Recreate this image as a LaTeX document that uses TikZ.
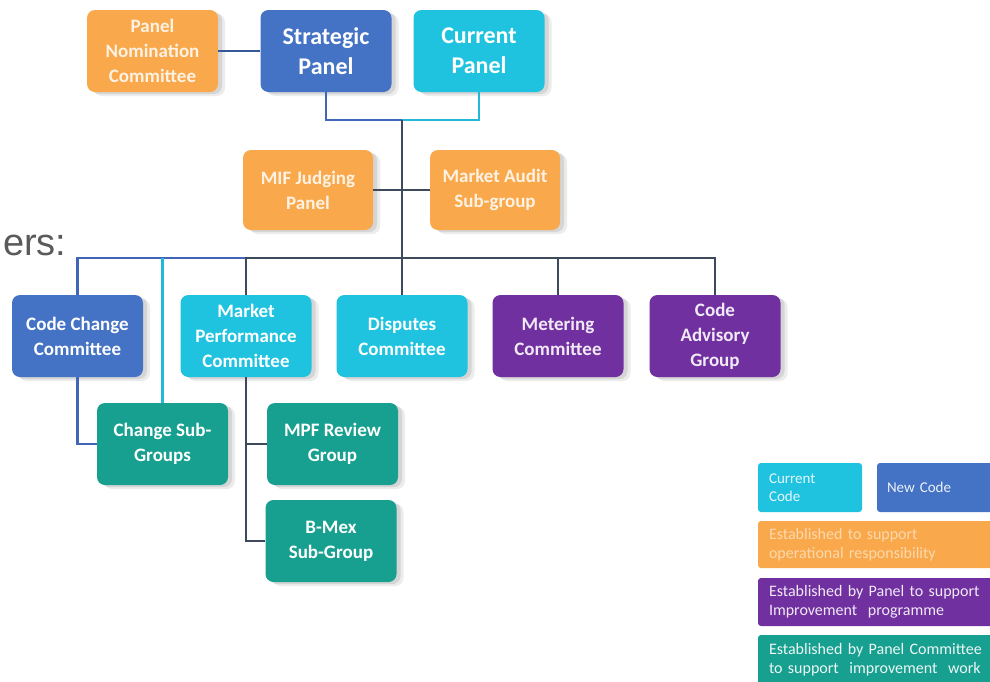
\documentclass[tikz,border=0pt]{standalone}
\usepackage{fontspec}
\setmainfont{Carlito}
\newfontfamily\arialf{Liberation Sans}
\usetikzlibrary{shadows}
\definecolor{orng}{HTML}{F9A94B}
\definecolor{nblue}{HTML}{4472C4}
\definecolor{ccyan}{HTML}{1FC3E0}
\definecolor{purp}{HTML}{7030A0}
\definecolor{tealx}{HTML}{17A08F}
\definecolor{dline}{HTML}{3E4A5C}
\definecolor{bline}{HTML}{3F66B8}
\definecolor{cline}{HTML}{22B8D8}
\definecolor{pline}{HTML}{35589A}
\definecolor{txtgray}{HTML}{5A5A5A}
\begin{document}
\begin{tikzpicture}[x=1pt,y=-1pt,
  box/.style={rounded corners=8pt, minimum width=131pt, minimum height=82pt,
    inner sep=0pt, align=center, text=white,
    font=\bfseries\fontsize{19}{25}\selectfont,
    drop shadow={shadow xshift=7pt, shadow yshift=-4pt, opacity=0.10, fill=black!70},
    drop shadow={shadow xshift=4pt, shadow yshift=-2pt, opacity=0.14, fill=black!70}},
  bigbox/.style={box, font=\bfseries\fontsize{24}{30}\selectfont},
  lg/.style={rounded corners=3pt, inner ysep=0pt, inner xsep=11pt, align=left,
    font=\fontsize{16}{19}\selectfont},
  conn/.style={line width=2.6pt},
  dl/.style={conn, draw=dline},
  bl/.style={conn, draw=bline},
  cl/.style={conn, draw=cline},
  pl/.style={conn, draw=pline}]
\fill[white] (0,0) rectangle (990,681);
\useasboundingbox (0,0) rectangle (990,681);

% top row
\node[box, fill=orng, text=white!85!orng] (pnc) at (152.5,51) {Panel\\Nomination\\Committee};
\node[bigbox, fill=nblue] (sp) at (326,51) {Strategic\\Panel};
\node[bigbox, fill=ccyan] (cp) at (479,51) {Current\\Panel};

% second row
\node[box, fill=orng, text=white!85!orng, minimum width=130pt, minimum height=80pt] (mif) at (308,190) {MIF Judging\\Panel};
\node[box, fill=orng, text=white!85!orng, minimum width=130pt, minimum height=80pt] (mas) at (495,190) {Market Audit\\Sub-group};

% committees
\node[box, fill=nblue] (ccc) at (77.5,336) {Code Change\\Committee};
\node[box, fill=ccyan] (mpc) at (246,336) {Market\\Performance\\Committee};
\node[box, fill=ccyan] (dc) at (402,336) {Disputes\\Committee};
\node[box, fill=purp, text=white!90!purp] (mc) at (558,336) {Metering\\Committee};
\node[box, fill=purp, text=white!90!purp] (cag) at (715,336) {Code\\Advisory\\Group};

% sub-groups
\node[box, fill=tealx] (csg) at (162.5,444) {Change Sub-\\Groups};
\node[box, fill=tealx] (mpf) at (332.5,444) {MPF Review\\Group};
\node[box, fill=tealx] (bmex) at (331,541) {B-Mex\\Sub-Group};

% coordinates
\coordinate (t1) at (402,120);
\coordinate (bus) at (402,258);

% connectors
\draw[pl] (pnc.east) -- (sp.west);
\draw[bl] (sp.south) |- (t1);
\draw[cl] (cp.south) |- (t1);
\draw[dl] (t1) -- (dc.north);
\draw[dl] (mif.east) -- (mas.west);
\draw[bl] (ccc.north) |- (mpc.north |- bus);
\draw[cl] (csg.north) -- (csg.north |- bus);
\draw[dl] (mpc.north) -- (mpc.north |- bus) -- (cag.north |- bus) -- (cag.north);
\draw[dl] (mc.north) -- (mc.north |- bus);
\draw[bl] (ccc.south) |- (csg.west);
\draw[dl] (mpc.south) |- (bmex.west);
\draw[dl] (mpc.south |- mpf.west) -- (mpf.west);

% cut-off text
\node[anchor=base west, inner sep=0pt, text=txtgray, font=\arialf\fontsize{38}{38}\selectfont] (ers) at (3,255) {ers:};

% legend
\node[lg, fill=ccyan, minimum width=104pt, minimum height=49pt, text width=82pt, text=white!88!ccyan, font=\fontsize{15}{18}\selectfont] (lcur) at (810,487.5) {Current\\Code};
\node[lg, fill=nblue, minimum width=118pt, minimum height=49pt, text width=98pt, inner xsep=10pt, text=white!90!nblue, font=\fontsize{15}{18}\selectfont] (lnew) at (936,487.5) {New Code};
\node[lg, fill=orng, minimum width=237pt, minimum height=47pt, text width=215pt, text=white!55!orng] (lor) at (876.5,544.5) {Established to support\\operational responsibility};
\node[lg, fill=purp, minimum width=237pt, minimum height=48pt, text width=215pt, text=white!90!purp] (lpur) at (876.5,602) {Established by Panel to support\\Improvement~ programme};
\node[lg, fill=tealx, minimum width=237pt, minimum height=50pt, text width=215pt, text=white!92!tealx] (lteal) at (876.5,660) {Established by Panel Committee\\to support~ improvement~ work};
\end{tikzpicture}
\end{document}
